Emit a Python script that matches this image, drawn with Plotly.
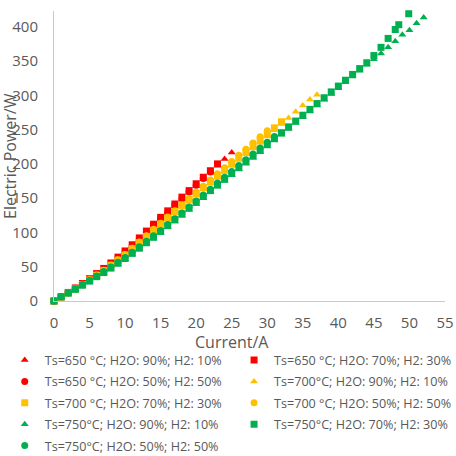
import plotly.graph_objects as go

# ---------------- data ----------------
names = [
    "Ts=650 °C; H2O: 90%; H2: 10%",
    "Ts=650 °C; H2O: 70%; H2: 30%",
    "Ts=650 °C; H2O: 50%; H2: 50%",
    "Ts=700°C; H2O: 90%; H2: 10%",
    "Ts=700 °C; H2O: 70%; H2: 30%",
    "Ts=700 °C; H2O: 50%; H2: 50%",
    "Ts=750°C; H2O: 90%; H2: 10%",
    "Ts=750°C; H2O: 70%; H2: 30%",
    "Ts=750°C; H2O: 50%; H2: 50%",
]

# 650 °C
i_650_90 = [0, 1, 2, 3, 4, 5, 6, 7, 8, 9, 10, 11, 12, 13, 14, 15, 16, 17, 18, 19, 20, 21, 22, 23, 24, 25]
p_650_90 = [0, 6, 12, 18, 24.5, 31.5, 38.5, 46, 54, 62, 71, 80, 89.5, 99.5, 109.5, 119, 128.5, 138.5,
            148, 158, 167.5, 177.5, 187.5, 197.5, 207, 216.5]
i_650_70 = [0, 1, 2, 3, 4, 5, 6, 7, 8, 9, 10, 11, 12, 13, 14, 15, 16, 17, 18, 19, 20, 21, 22, 23]
p_650_70 = [0, 6, 12.5, 19, 25.5, 32.5, 40, 47.5, 55.5, 64, 73, 82, 92, 102, 112, 122, 131.5, 141.5,
            151.5, 161, 171, 180.5, 190, 200]
i_650_50 = [0, 1, 2, 3, 4, 5, 6, 7, 8, 9, 10, 11, 12, 13, 14, 15, 16, 17, 18, 19, 20, 21, 22]
p_650_50 = [0, 6, 12, 18.5, 25, 31.5, 39, 46.5, 54, 62.5, 71.5, 80.5, 90.5, 100.5, 110.5, 120.5, 130,
            140, 149.5, 159.5, 169, 178.5, 188]

# 700 °C
i_700_90 = [0, 1, 2, 3, 4, 5, 6, 7, 8, 9, 10, 11, 12, 13, 14, 15, 16, 17, 18, 19, 20, 21, 22, 23, 24,
            25, 26, 27, 28, 29, 30, 31, 32, 33, 34, 35, 36, 37]
p_700_90 = [0, 6, 11.5, 17, 23.5, 30, 36.5, 43.5, 51, 58.5, 66, 74.5, 83.5, 92.5, 101.5, 110, 119,
            127.5, 136.5, 145, 154, 162.5, 171, 179.5, 188, 197, 205.5, 214, 222.5, 231, 240, 249,
            258, 267, 276, 285, 294, 301]
i_700_70 = [0, 1, 2, 3, 4, 5, 6, 7, 8, 9, 10, 11, 12, 13, 14, 15, 16, 17, 18, 19, 20, 21, 22, 23, 24,
            25, 26, 27, 28, 29, 30, 31, 32]
p_700_70 = [0, 6, 11.5, 17.5, 24, 30.5, 37.5, 44.5, 52, 59.5, 67, 76, 85, 94, 103, 112, 121, 130, 139,
            147.5, 156.5, 165.5, 174, 183, 191.5, 200.5, 209, 218, 226, 235, 243.5, 252.5, 261.5]
i_700_50 = [0, 1, 2, 3, 4, 5, 6, 7, 8, 9, 10, 11, 12, 13, 14, 15, 16, 17, 18, 19, 20, 21, 22, 23, 24,
            25, 26, 27, 28, 29, 30]
p_700_50 = [0, 6, 12, 18, 24.5, 31, 38, 45, 52.5, 60, 68, 77, 86, 95, 104.5, 113.5, 122.5, 131.5,
            140.5, 149.5, 158.5, 167.5, 176.5, 185.5, 194.5, 203.5, 212.5, 221.5, 230.5, 239.5, 248.5]

# 750 °C
i_750_90 = [0, 1, 2, 3, 4, 5, 6, 7, 8, 9, 10, 11, 12, 13, 14, 15, 16, 17, 18, 19, 20, 21, 22, 23, 24,
            25, 26, 27, 28, 29, 30, 31, 32, 33, 34, 35, 36, 37, 38, 39, 40, 41, 42, 43, 44, 45, 46,
            47, 48, 49, 50, 51, 52]
p_750_90 = [0, 5.5, 11, 16.5, 22, 28, 34.5, 40.5, 47, 54, 61, 68, 75.5, 83.5, 91, 99.5, 108, 116,
            124.5, 133, 141.5, 150, 158.5, 166.5, 175, 183.5, 192, 200.5, 209, 217, 225.5, 234,
            242.5, 251, 259.5, 268, 276.5, 285, 293.5, 302, 310.5, 319, 327.5, 336, 344.5, 352.5,
            361, 370, 379, 388.5, 395, 405, 413.5]
i_750_70 = [0, 1, 2, 3, 4, 5, 6, 7, 8, 9, 10, 11, 12, 13, 14, 15, 16, 17, 18, 19, 20, 21, 22, 23, 24,
            25, 26, 27, 28, 29, 30, 31, 32, 33, 34, 35, 36, 37, 38, 39, 40, 41, 42, 43, 44, 45, 46,
            47, 48, 48.5, 49.9, 50.5]
p_750_70 = [0, 6, 11.5, 17, 23, 29, 35.5, 41.5, 48, 55, 62, 69.5, 77, 85, 93, 101.5, 110, 118.5,
            127, 135.5, 144, 152.5, 161, 169.5, 178, 186, 194.5, 203, 211.5, 220, 228.5, 237,
            245.5, 254, 262.5, 271, 279.5, 288, 296.5, 305, 313.5, 322, 330.5, 339, 347.5, 358,
            370, 383, 396, 403, 419, 425]
i_750_50 = [0, 1, 2, 3, 4, 5, 6, 7, 8, 9, 10, 11, 12, 13, 14, 15, 16, 17, 18, 19, 20, 21, 22, 23, 24,
            25, 26, 27, 28, 29, 30, 31]
p_750_50 = [0, 6.5, 12, 18, 24, 30, 36.5, 43, 49.5, 56.5, 63.5, 71, 79, 87, 95, 103, 111.5, 120,
            128.5, 137, 146, 154.5, 163, 172, 180.5, 189, 197.5, 206, 214.5, 223, 231.5, 240]

x_ticks = [0, 5, 10, 15, 20, 25, 30, 35, 40, 45, 50, 55]
y_ticks = [0, 50, 100, 150, 200, 250, 300, 350, 400]

currents = [i_650_90, i_650_70, i_650_50, i_700_90, i_700_70, i_700_50, i_750_90, i_750_70, i_750_50]
powers = [p_650_90, p_650_70, p_650_50, p_700_90, p_700_70, p_700_50, p_750_90, p_750_70, p_750_50]

# ---------------- styling ----------------
RED, YEL, GRN = "#FF0000", "#FFC000", "#00B050"
colors = [RED, RED, RED, YEL, YEL, YEL, GRN, GRN, GRN]
symbols = ["triangle-up", "square", "circle"] * 3
legend_of = ["legend", "legend2"] * 5

fig = go.Figure()
for k in range(9):
    fig.add_trace(go.Scatter(
        x=currents[k], y=powers[k], name=names[k], mode="markers",
        marker=dict(color=colors[k], symbol=symbols[k], size=7, line=dict(width=0)),
        cliponaxis=False, legend=legend_of[k], legendgroup="g%d" % k,
    ))

TXT = "#595959"
AX = "#C9C9C9"
legend_common = dict(
    orientation="v", yanchor="top", xanchor="left",
    font=dict(family="Open Sans", size=12.6, color=TXT),
    bgcolor="rgba(0,0,0,0)", borderwidth=0, tracegroupgap=2,
    itemclick=False, itemdoubleclick=False,
)
fig.update_layout(
    template="none",
    width=456, height=456,
    margin=dict(l=54, r=11, t=11, b=155, autoexpand=False),
    paper_bgcolor="white", plot_bgcolor="white",
    showlegend=True,
    font=dict(family="Open Sans", color=TXT),
    xaxis=dict(range=[0, 55], tickvals=x_ticks, showgrid=False, zeroline=False,
               showline=True, linecolor=AX, linewidth=1, ticks="", automargin=False,
               tickfont=dict(size=15, color=TXT), ticklabelstandoff=8, fixedrange=True),
    yaxis=dict(range=[0, 423], tickvals=y_ticks, showgrid=False, zeroline=False,
               showline=True, linecolor=AX, linewidth=1, ticks="", automargin=False,
               tickfont=dict(size=15, color=TXT), ticklabelstandoff=12, fixedrange=True),
    legend=dict(x=-0.126, y=-0.153, **legend_common),
    legend2=dict(x=0.4605, y=-0.153, **legend_common),
    annotations=[
        dict(text="Electric Power/W", xref="paper", yref="paper", x=-0.1125, y=0.5,
             textangle=-90, showarrow=False, xanchor="center", yanchor="middle",
             font=dict(size=16, color=TXT)),
        dict(text="Current/A", xref="paper", yref="paper", x=0.4565, y=-0.143,
             showarrow=False, xanchor="center", yanchor="middle",
             font=dict(size=16, color=TXT)),
    ],
)

fig.write_html("out.html")
